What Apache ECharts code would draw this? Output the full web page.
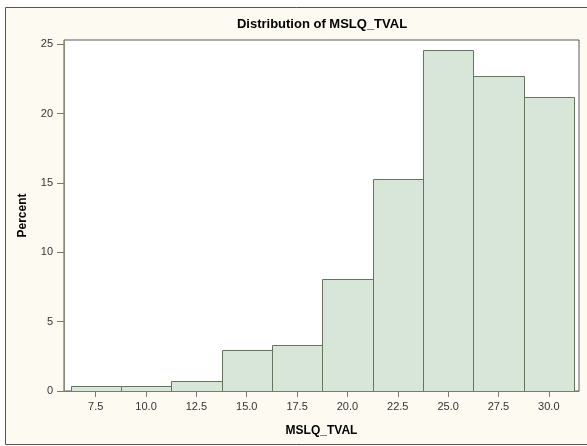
<!DOCTYPE html>
<html>
<head>
<meta charset="utf-8">
<script src="https://cdn.jsdelivr.net/npm/echarts@6/dist/echarts.min.js"></script>
<style>
  html, body { margin: 0; padding: 0; background: #ffffff; }
  #chart { width: 587px; height: 446px; }
</style>
</head>
<body>
<div id="chart"></div>
<script>
// Histogram bins of MSLQ_TVAL: midpoints and percent of observations
const binMidpoints = [7.5, 10.0, 12.5, 15.0, 17.5, 20.0, 22.5, 25.0, 27.5, 30.0];
const percents = [0.37, 0.37, 0.73, 2.93, 3.30, 8.10, 15.27, 24.55, 22.70, 21.20];
const binWidth = 2.5;
const xTicks = [7.5, 10.0, 12.5, 15.0, 17.5, 20.0, 22.5, 25.0, 27.5, 30.0];
const yTicks = [0, 5, 10, 15, 20, 25];

const bins = binMidpoints.map((m, i) => [m - binWidth / 2, m + binWidth / 2, percents[i]]);

const chart = echarts.init(document.getElementById('chart'), null, { renderer: 'canvas' });

const labelFont = { fontFamily: 'Liberation Sans, Arial, sans-serif', fontSize: 11, color: '#333333' };
const nameFont = { fontFamily: 'Liberation Sans, Arial, sans-serif', fontSize: 12, fontWeight: 'bold', color: '#000000' };

chart.setOption({
  animation: false,
  backgroundColor: '#ffffff',
  graphic: [{
    type: 'rect',
    z: -10,
    shape: { x: 5.5, y: 7.5, width: 585, height: 437 },
    style: { fill: '#fdfaf2', stroke: '#55554a', lineWidth: 1 }
  }],
  title: {
    text: 'Distribution of MSLQ_TVAL',
    left: 322,
    textAlign: 'center',
    top: 18,
    padding: 0,
    textStyle: Object.assign({}, nameFont, { fontSize: 13 })
  },
  grid: {
    left: 64, right: 8, top: 40, bottom: 55,
    show: true,
    backgroundColor: '#ffffff',
    borderColor: '#5c5c50',
    borderWidth: 1
  },
  xAxis: {
    type: 'value',
    min: 5.925,
    max: 31.5,
    name: 'MSLQ_TVAL',
    nameLocation: 'middle',
    nameGap: 34,
    nameTextStyle: Object.assign({}, nameFont),
    splitLine: { show: false },
    axisLine: { show: true, lineStyle: { color: '#7a7a6e', width: 1 } },
    axisTick: { show: true, length: 6, customValues: xTicks, lineStyle: { color: '#7a7a6e' } },
    axisLabel: Object.assign({
      customValues: xTicks,
      margin: 10,
      formatter: v => Number(v).toFixed(1)
    }, labelFont)
  },
  yAxis: {
    type: 'value',
    min: 0,
    max: 25.3,
    name: 'Percent',
    nameLocation: 'middle',
    nameRotate: 90,
    nameGap: 35,
    nameTextStyle: Object.assign({}, nameFont),
    splitLine: { show: false },
    axisLine: { show: true, lineStyle: { color: '#8a8a7e', width: 1 } },
    axisTick: { show: true, length: 7, customValues: yTicks, lineStyle: { color: '#7a7a6e' } },
    axisLabel: Object.assign({ customValues: yTicks, margin: 11 }, labelFont)
  },
  series: [{
    type: 'custom',
    data: bins,
    encode: { x: [0, 1], y: 2 },
    clip: true,
    renderItem: function (params, api) {
      const topLeft = api.coord([api.value(0), api.value(2)]);
      const bottomRight = api.coord([api.value(1), 0]);
      const x0 = Math.round(topLeft[0]) + 0.5;
      const x1 = Math.round(bottomRight[0]) + 0.5;
      const y0 = Math.round(topLeft[1]) + 0.5;
      const y1 = Math.round(bottomRight[1]) + 0.5;
      return {
        type: 'rect',
        shape: { x: x0, y: y0, width: x1 - x0, height: y1 - y0 },
        style: { fill: '#d7e6d8', stroke: '#66735f', lineWidth: 1 }
      };
    }
  }]
});
</script>
</body>
</html>
